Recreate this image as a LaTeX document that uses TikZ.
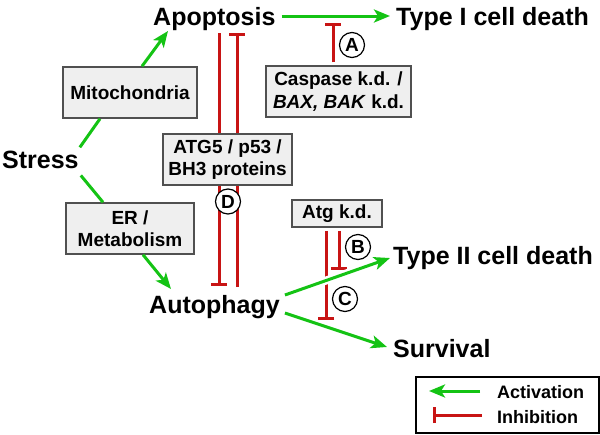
\documentclass[tikz,border=0pt]{standalone}
\usepackage{fontspec}
\setmainfont{Liberation Sans}
\usetikzlibrary{arrows.meta,calc}
\definecolor{actg}{RGB}{20,195,20}
\definecolor{inhr}{RGB}{200,20,20}
\definecolor{boxfill}{RGB}{239,239,239}
\definecolor{boxline}{RGB}{80,80,80}
\begin{document}
\begin{tikzpicture}[x=1pt,y=-1pt,
  title/.style={font=\fontsize{25}{28}\selectfont\bfseries, inner sep=0, anchor=base west},
  gbox/.style={draw=boxline, fill=boxfill, line width=1.5pt, font=\fontsize{19}{22.5}\selectfont\bfseries, align=center, inner sep=0, minimum height=51pt},
  act/.style={draw=actg, line width=3pt, -{Stealth[length=16pt,width=13pt,inset=4pt]}},
  actline/.style={draw=actg, line width=3pt},
  inh/.style={draw=inhr, line width=3pt, -{Bar[width=16pt]}},
  lab/.style={circle, draw, line width=1.2pt, fill=white, minimum size=25pt, inner sep=0, font=\fontsize{19}{19}\selectfont\bfseries},
  legtext/.style={font=\fontsize{18}{20}\selectfont\bfseries, inner sep=0, anchor=base west}]
\useasboundingbox (0,0) rectangle (600,434);
% titles
\node[title] (apop) at (153,25) {Apoptosis};
\node[title] (type1) at (396,25) {Type I cell death};
\node[title] (stress) at (2,168) {Stress};
\node[title] (auto) at (149,313) {Autophagy};
\node[title] (type2) at (393,264) {Type II cell death};
\node[title] (surv) at (393,357) {Survival};
% D lines (behind the ATG5 box)
\draw[inh] ($(apop.base west)+(66,8)$) -- ($(auto.base west)+(70,-27)$);
\draw[inh] ($(auto.base west)+(88,-26)$) -- ($(apop.base west)+(84,8)$);
% boxes
\node[gbox, minimum width=134pt] (mito) at (130,92.5) {Mitochondria};
\node[gbox, minimum width=145pt] (casp) at (338.5,91.5) {Caspase k.d. /\\\textit{BAX, BAK} k.d.};
\node[gbox, minimum width=129pt] (atg5) at (227.5,159.5) {ATG5 / p53 /\\BH3 proteins};
\node[gbox, minimum width=128pt] (er) at (130,228.5) {ER /\\Metabolism};
\node[gbox, minimum width=90pt, minimum height=27pt] (atgkd) at (337,213.5) {Atg k.d.};
% activation connectors
\draw[act] ($(apop.base east)+(6,-9)$) -- ($(type1.base west)+(-6,-9)$);
\draw[actline] ($(stress.north east)+(1,-3)$) -- ($(mito.south)+(-30,0)$);
\draw[act] ($(mito.north)+(12,0)$) -- ($(apop.base west)+(15,6)$);
\draw[actline] ($(stress.south east)+(2,7)$) -- ($(er.north)+(-27,0)$);
\draw[act] ($(er.south)+(13,0)$) -- ($(auto.base west)+(22,-24)$);
% inhibitions
\coordinate (aT) at (333,23);
\draw[inh] ($(casp.north)+(-5.5,-3)$) -- (aT);
\draw[inh] ($(atgkd.south)+(2,3)$) -- ++(0,39);
\draw[inh] ($(atgkd.south)+(-11,3)$) -- ++(0,89);
% autophagy outputs
\draw[act, preaction={draw=white, line width=8pt, -, shorten >=20pt}] ($(auto.base east)+(5,-18)$) -- ($(type2.base west)+(-3,-6)$);
\draw[act] ($(auto.base east)+(5,0)$) -- ($(surv.base west)+(-6,-10)$);
% letter labels
\node[lab] (A) at (352,45) {A};
\node[lab] (B) at (358,247) {B};
\node[lab] (C) at (345,299) {C};
\node[lab] (D) at (228,201.5) {D};
% legend
\node[draw=black, line width=1.2pt, minimum width=183pt, minimum height=56pt, inner sep=0] (leg) at (507.5,405) {};
\coordinate (la1) at (480,391);
\coordinate (la2) at (429,391);
\coordinate (li1) at (482,415);
\coordinate (li2) at (433,415);
\draw[act] (la1) -- (la2);
\draw[inh] (li1) -- (li2);
\node[legtext] (lact) at (497,398) {Activation};
\node[legtext] (linh) at (497,423) {Inhibition};
\end{tikzpicture}
\end{document}
